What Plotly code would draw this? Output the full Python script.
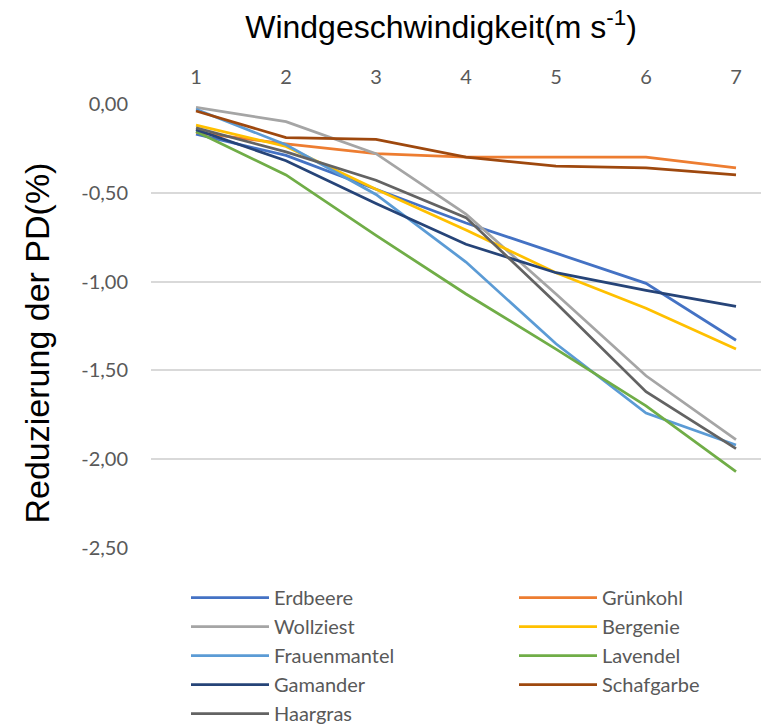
import plotly.graph_objects as go

# Wind speed classes (m/s) shown along the top axis
wind_speed = [1, 2, 3, 4, 5, 6, 7]
x_tick_labels = ["1", "2", "3", "4", "5", "6", "7"]

# Reduction of PD (%) per plant species
erdbeere = [-0.17, -0.29, -0.48, -0.67, -0.84, -1.01, -1.33]
gruenkohl = [-0.16, -0.225, -0.28, -0.30, -0.30, -0.30, -0.36]
wollziest = [-0.02, -0.10, -0.28, -0.62, -1.07, -1.53, -1.89]
bergenie = [-0.12, -0.24, -0.48, -0.71, -0.95, -1.15, -1.38]
frauenmantel = [-0.03, -0.23, -0.51, -0.89, -1.35, -1.74, -1.92]
lavendel = [-0.155, -0.40, -0.74, -1.07, -1.38, -1.70, -2.07]
gamander = [-0.145, -0.32, -0.56, -0.79, -0.95, -1.05, -1.14]
schafgarbe = [-0.04, -0.19, -0.20, -0.30, -0.35, -0.36, -0.40]
haargras = [-0.135, -0.27, -0.43, -0.64, -1.12, -1.62, -1.94]

y_ticks = [0.0, -0.5, -1.0, -1.5, -2.0, -2.5]
y_tick_labels = ["0,00", "-0,50", "-1,00", "-1,50", "-2,00", "-2,50"]

# (name, values, colour, legend column)
series = [
    ("Erdbeere", erdbeere, "#4472C4", "legend"),
    ("Grünkohl", gruenkohl, "#ED7D31", "legend2"),
    ("Wollziest", wollziest, "#A5A5A5", "legend"),
    ("Bergenie", bergenie, "#FFC000", "legend2"),
    ("Frauenmantel", frauenmantel, "#5B9BD5", "legend"),
    ("Lavendel", lavendel, "#70AD47", "legend2"),
    ("Gamander", gamander, "#264478", "legend"),
    ("Schafgarbe", schafgarbe, "#9E480E", "legend2"),
    ("Haargras", haargras, "#636363", "legend"),
]

fig = go.Figure()
for name, vals, color, leg in series:
    fig.add_trace(go.Scatter(
        x=wind_speed, y=vals, name=name, mode="lines",
        line=dict(color=color, width=2.75),
        legend=leg, legendgroup=name,
    ))

W, H = 761, 727
L, R, T, B = 151, 0, 103, 178
pw, ph = W - L - R, H - T - B

tick_font = dict(family="Lato, Open Sans, sans-serif", size=20, color="#595959")
legend_common = dict(
    orientation="v", xref="paper", yref="container",
    xanchor="left", yanchor="top", y=1 - 578 / H,
    font=dict(family="Lato, Open Sans, sans-serif", size=20, color="#595959"),
    bgcolor="rgba(0,0,0,0)", tracegroupgap=0, itemwidth=78,
)

fig.update_layout(
    width=W, height=H,
    margin=dict(l=L, r=R, t=T, b=B),
    paper_bgcolor="white", plot_bgcolor="white",
    title=dict(
        text="Windgeschwindigkeit(m s<sup>-1</sup>)",
        x=441 / W, xanchor="center", y=1 - 27 / H, yanchor="middle",
        font=dict(family="Liberation Sans, Arial, sans-serif", size=32, color="#000000"),
        automargin=False,
    ),
    xaxis=dict(
        side="top", range=[0.5, 0.5 + pw / 90],
        tickmode="array", tickvals=wind_speed, ticktext=x_tick_labels,
        showgrid=False, zeroline=False, showline=False,
        ticks="outside", ticklen=10, tickcolor="rgba(0,0,0,0)",
        tickfont=tick_font, automargin=False,
    ),
    yaxis=dict(
        range=[-2.505, 0.005],
        tickmode="array", tickvals=y_ticks, ticktext=y_tick_labels,
        showgrid=True, gridcolor="#D9D9D9", gridwidth=1.75,
        zeroline=False, showline=False,
        ticks="outside", ticklen=18, tickcolor="rgba(0,0,0,0)",
        tickfont=tick_font, automargin=False,
    ),
    legend=dict(x=(186 - L) / pw, **legend_common),
    legend2=dict(x=(514 - L) / pw, **legend_common),
    annotations=[dict(
        text="Reduzierung der PD(%)", textangle=-90,
        xref="paper", yref="paper",
        x=(36 - L) / pw, y=(H - B - 343.5) / ph,
        xanchor="center", yanchor="middle", showarrow=False,
        font=dict(family="Liberation Sans, Arial, sans-serif", size=34, color="#000000"),
    )],
)

fig.write_html("out.html")
